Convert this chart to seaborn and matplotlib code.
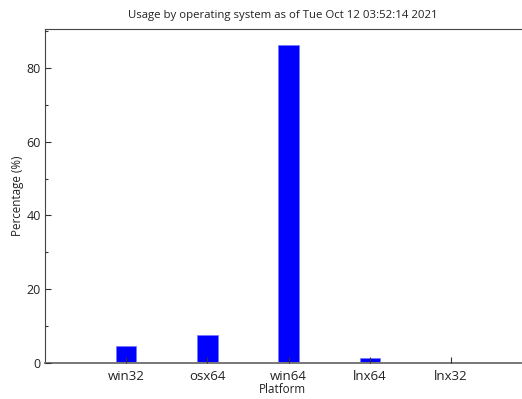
import matplotlib
matplotlib.use("Agg")
import matplotlib.pyplot as plt
import seaborn as sns
from matplotlib.ticker import MultipleLocator

# Data
platforms = ["win32", "osx64", "win64", "lnx64", "lnx32"]
percentages = [4.5, 7.6, 86.2, 1.4, 0.0]

sns.set_style("ticks")
plt.rcParams["font.family"] = ["Open Sans", "DejaVu Sans"]

fig = plt.figure(figsize=(5.22, 3.99), dpi=100)
ax = fig.add_axes([0.086, 0.09, 0.912, 0.837])

sns.barplot(x=platforms, y=percentages, color="#0000ff", width=0.25,
            saturation=1, edgecolor="#7777ff", linewidth=0.5, ax=ax)

ax.set_xlim(-1, 4.86)
ax.set_ylim(0, max(percentages) * 1.05)
ax.yaxis.set_major_locator(MultipleLocator(20))
ax.yaxis.set_minor_locator(MultipleLocator(10))
ax.tick_params(axis="both", which="both", direction="in", color="#333333",
               labelcolor="#222222")
ax.tick_params(axis="both", which="major", length=4, width=0.8)
ax.tick_params(axis="y", which="minor", length=2.5, width=0.8)
ax.tick_params(axis="x", pad=5, labelsize=9.5)
ax.tick_params(axis="y", pad=3, labelsize=9)

ax.spines["right"].set_visible(False)
ax.spines["top"].set_color("#444444")
ax.spines["left"].set_color("#444444")
ax.spines["bottom"].set_color("#777777")
ax.spines["bottom"].set_linewidth(1.4)
ax.set_axisbelow(False)

ax.set_xlabel("Platform", fontsize=8.4, color="#222222", labelpad=0)
ax.set_ylabel("Percentage (%)", fontsize=8.4, color="#222222", labelpad=2)
ax.set_title("Usage by operating system as of Tue Oct 12 03:52:14 2021",
             fontsize=8.2, color="#222222", pad=8)

fig.savefig("out.png", dpi=100)
